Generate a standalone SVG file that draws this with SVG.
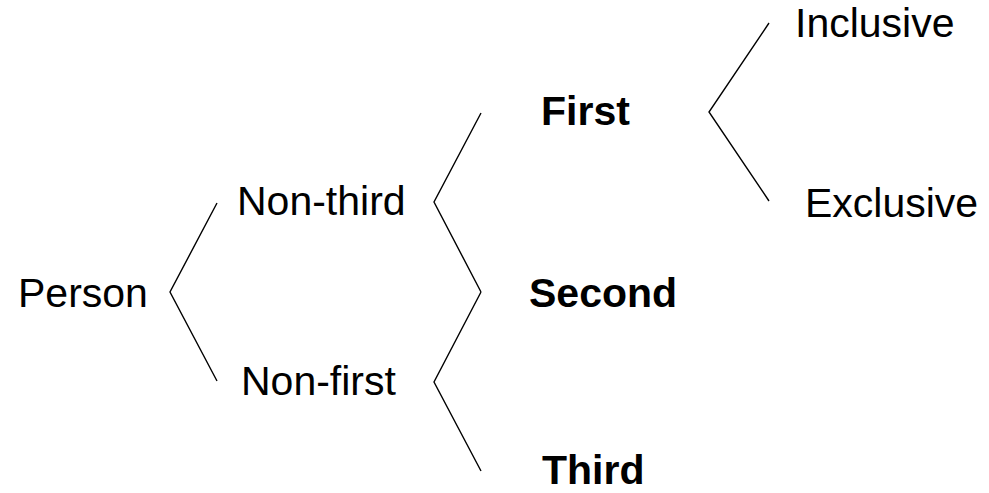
<svg xmlns="http://www.w3.org/2000/svg" width="989" height="493" viewBox="0 0 989 493">
  <style>
    text { font-family: "Liberation Sans", Arial, sans-serif; font-size: 41px; fill: #000; }
    .b { font-weight: bold; }
    .br { fill: none; stroke: #000; stroke-width: 1.4; stroke-linejoin: miter; }
  </style>
  <rect width="989" height="493" fill="#fff"/>

  <!-- branching brackets -->
  <g id="connectors">
    <polyline class="br" points="217,203 170,292 217,381"/>
    <polyline class="br" points="481,113 434,202 481,292"/>
    <polyline class="br" points="481,292 434,382 481,471"/>
    <polyline class="br" points="769,23 709,112 769,201"/>
  </g>

  <g id="person"><text x="18" y="307">Person</text></g>
  <g id="non-third"><text x="237" y="215">Non-third</text></g>
  <g id="non-first"><text x="241" y="395">Non-first</text></g>
  <g id="first"><text class="b" x="541" y="125">First</text></g>
  <g id="second"><text class="b" x="529" y="307">Second</text></g>
  <g id="third"><text class="b" x="542" y="484">Third</text></g>
  <g id="inclusive"><text x="795" y="37">Inclusive</text></g>
  <g id="exclusive"><text x="805" y="217">Exclusive</text></g>
</svg>
